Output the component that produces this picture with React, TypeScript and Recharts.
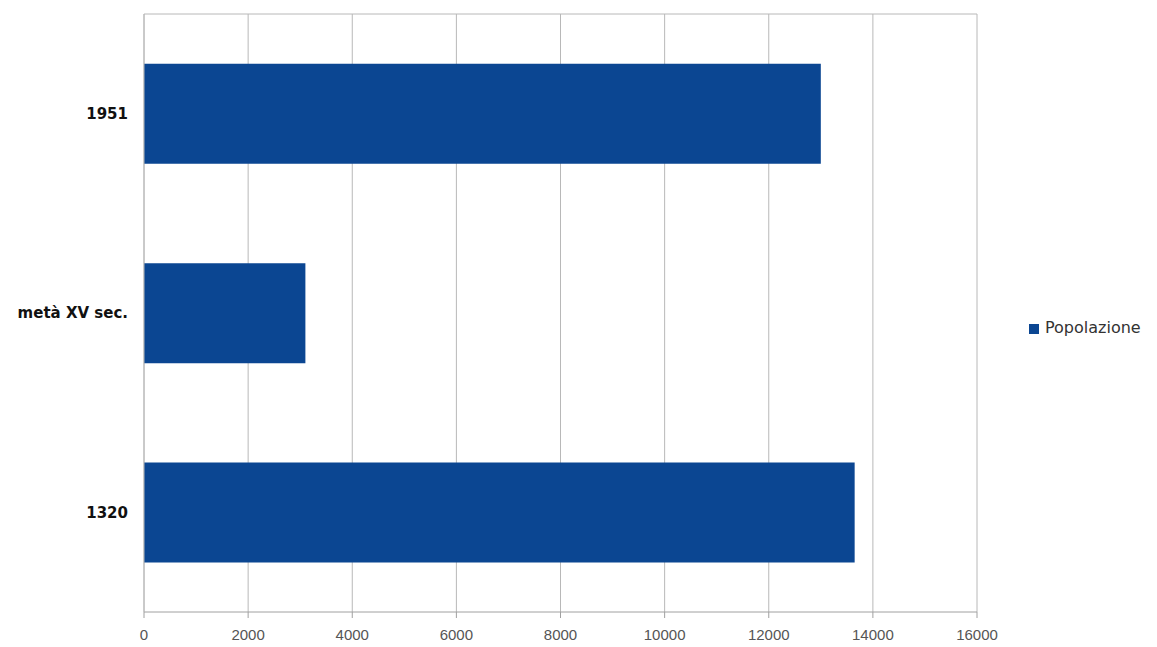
import { BarChart, Bar, XAxis, YAxis, CartesianGrid, Legend } from 'recharts';

const periods = ['1951', 'metà XV sec.', '1320'];
const population = [13000, 3100, 13650];
const xTicks = [0, 2000, 4000, 6000, 8000, 10000, 12000, 14000, 16000];

const data = periods.map((p, i) => ({ period: p, Popolazione: population[i] }));

export default function App() {
  return (
    <div style={{ position: 'absolute', left: 0, top: 0, background: '#fff' }}>
      <BarChart
        width={1157}
        height={647}
        data={data}
        layout="vertical"
        barCategoryGap="25%"
        margin={{ top: 13, right: 180, bottom: 5, left: 0 }}
      >
        <CartesianGrid horizontal={false} stroke="#b8b8b8" />
        <XAxis
          type="number"
          domain={[0, 16000]}
          ticks={xTicks}
          interval={0}
          height={30}
          tickSize={6}
          tickMargin={11}
          stroke="#a0a0a0"
          tick={{ fill: '#555', fontSize: 15, fontFamily: 'Liberation Sans' }}
        />
        <XAxis
          xAxisId="top"
          orientation="top"
          type="number"
          domain={[0, 16000]}
          ticks={xTicks}
          height={1}
          tick={false}
          tickLine={false}
          stroke="#b8b8b8"
        />
        <YAxis
          type="category"
          dataKey="period"
          width={144}
          tickLine={false}
          tickSize={8}
          tickMargin={8}
          stroke="#b8b8b8"
          tick={{ fill: '#111', fontSize: 15, fontWeight: 'bold', fontFamily: 'DejaVu Sans' }}
        />
        <Legend
          verticalAlign="middle"
          align="center"
          iconType="square"
          iconSize={10}
          wrapperStyle={{ left: 1029, top: 318, width: 'auto', fontFamily: 'DejaVu Sans', fontSize: 16 }}
          formatter={(v) => <span style={{ color: '#333', marginLeft: 2 }}>{v}</span>}
        />
        <Bar dataKey="Popolazione" fill="#0b4692" isAnimationActive={false} />
      </BarChart>
    </div>
  );
}
